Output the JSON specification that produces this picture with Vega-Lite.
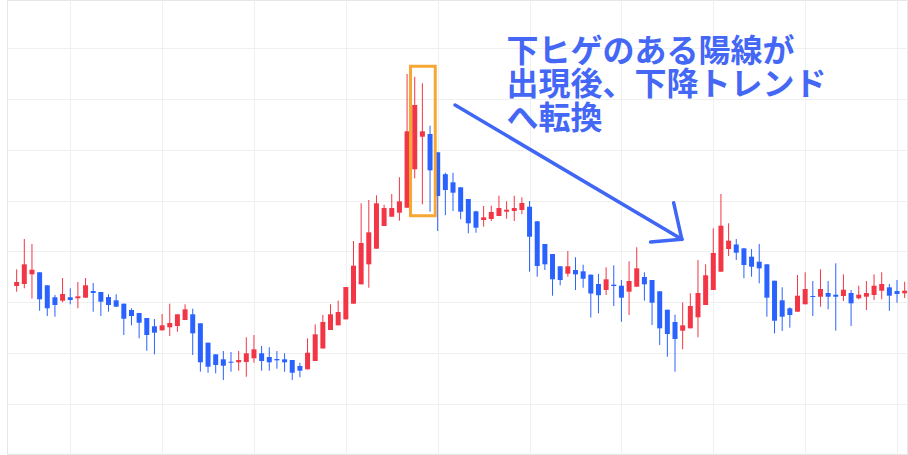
{
"$schema": "https://vega.github.io/schema/vega-lite/v6.json",
"width": 900,
"height": 454,
"autosize": {"type": "none"},
"padding": {"left": 7, "top": 0, "right": 1, "bottom": 1},
"background": "white",
"config": {"view": {"stroke": "#e6e6e6", "strokeWidth": 1}},
"datasets": {
"candles": [
{"i":0,"o":123.17,"h":126.46,"l":122.05,"c":123.96},
{"i":1,"o":123.56,"h":132.42,"l":122.72,"c":127.44},
{"i":2,"o":125.47,"h":131.44,"l":120.67,"c":126.38},
{"i":3,"o":125.87,"h":125.87,"l":118.31,"c":120.55},
{"i":4,"o":123.31,"h":123.31,"l":117.26,"c":118.78},
{"i":5,"o":120.95,"h":121.40,"l":117.13,"c":119.43},
{"i":6,"o":120.28,"h":124.74,"l":119.96,"c":121.59},
{"i":7,"o":120.95,"h":122.72,"l":119.57,"c":120.41},
{"i":8,"o":120.75,"h":123.96,"l":118.78,"c":121.14},
{"i":9,"o":120.87,"h":124.74,"l":120.87,"c":123.31},
{"i":10,"o":122.18,"h":123.76,"l":118.11,"c":121.79},
{"i":11,"o":121.99,"h":121.99,"l":117.26,"c":120.08},
{"i":12,"o":121.00,"h":121.54,"l":118.11,"c":119.43},
{"i":13,"o":120.35,"h":121.54,"l":119.09,"c":119.09},
{"i":14,"o":119.69,"h":119.69,"l":113.52,"c":116.73},
{"i":15,"o":118.45,"h":118.78,"l":115.43,"c":117.26},
{"i":16,"o":117.85,"h":117.85,"l":112.87,"c":115.94},
{"i":17,"o":116.87,"h":116.87,"l":110.43,"c":113.52},
{"i":18,"o":115.24,"h":116.67,"l":109.72,"c":113.98},
{"i":19,"o":114.45,"h":117.66,"l":114.37,"c":115.43},
{"i":20,"o":115.04,"h":119.69,"l":113.33,"c":115.89},
{"i":21,"o":115.30,"h":117.60,"l":114.17,"c":117.60},
{"i":22,"o":116.48,"h":119.57,"l":116.48,"c":118.58},
{"i":23,"o":117.60,"h":118.70,"l":109.59,"c":113.86},
{"i":24,"o":115.83,"h":115.83,"l":106.30,"c":108.15},
{"i":25,"o":112.01,"h":112.01,"l":106.10,"c":107.28},
{"i":26,"o":109.72,"h":109.72,"l":105.98,"c":107.62},
{"i":27,"o":108.74,"h":110.37,"l":104.67,"c":107.48},
{"i":28,"o":108.27,"h":110.18,"l":106.30,"c":108.07},
{"i":29,"o":108.15,"h":110.37,"l":106.50,"c":108.60},
{"i":30,"o":108.21,"h":113.07,"l":105.31,"c":109.92},
{"i":31,"o":108.94,"h":113.52,"l":108.07,"c":110.71},
{"i":32,"o":109.92,"h":111.36,"l":106.50,"c":108.41},
{"i":33,"o":109.19,"h":111.10,"l":106.50,"c":108.15},
{"i":34,"o":108.80,"h":110.37,"l":106.89,"c":108.54},
{"i":35,"o":108.74,"h":109.92,"l":106.30,"c":108.15},
{"i":36,"o":108.60,"h":108.60,"l":104.67,"c":106.10},
{"i":37,"o":107.42,"h":108.07,"l":105.20,"c":106.50},
{"i":38,"o":106.77,"h":112.87,"l":106.77,"c":110.04},
{"i":39,"o":108.41,"h":115.63,"l":108.41,"c":113.66},
{"i":40,"o":110.87,"h":117.46,"l":110.87,"c":116.08},
{"i":41,"o":114.51,"h":119.57,"l":114.51,"c":117.60},
{"i":42,"o":115.43,"h":120.28,"l":115.43,"c":118.05},
{"i":43,"o":116.61,"h":122.97,"l":116.61,"c":122.97},
{"i":44,"o":119.69,"h":132.03,"l":119.69,"c":127.17},
{"i":45,"o":123.50,"h":139.45,"l":123.50,"c":131.63},
{"i":46,"o":127.44,"h":140.10,"l":122.83,"c":133.74},
{"i":47,"o":130.51,"h":141.02,"l":130.51,"c":139.45},
{"i":48,"o":134.98,"h":139.17,"l":134.98,"c":138.52},
{"i":49,"o":136.81,"h":141.28,"l":136.81,"c":138.52},
{"i":50,"o":137.60,"h":144.57,"l":136.02,"c":139.84},
{"i":51,"o":138.58,"h":164.90,"l":138.58,"c":153.62},
{"i":52,"o":146.14,"h":164.37,"l":144.37,"c":158.80},
{"i":53,"o":152.56,"h":163.07,"l":139.25,"c":153.62},
{"i":54,"o":153.09,"h":154.72,"l":137.80,"c":145.94},
{"i":55,"o":149.49,"h":149.49,"l":134.00,"c":140.89},
{"i":56,"o":145.18,"h":145.47,"l":137.11,"c":142.07},
{"i":57,"o":143.58,"h":145.47,"l":137.93,"c":141.54},
{"i":58,"o":142.60,"h":142.60,"l":136.30,"c":137.80},
{"i":59,"o":140.30,"h":140.30,"l":133.54,"c":135.51},
{"i":60,"o":137.87,"h":137.99,"l":133.66,"c":134.65},
{"i":61,"o":136.16,"h":138.92,"l":134.84,"c":136.69},
{"i":62,"o":136.36,"h":138.98,"l":135.96,"c":137.74},
{"i":63,"o":136.95,"h":140.94,"l":136.95,"c":138.52},
{"i":64,"o":137.80,"h":139.84,"l":136.42,"c":138.19},
{"i":65,"o":137.93,"h":140.94,"l":135.96,"c":138.52},
{"i":66,"o":138.13,"h":140.63,"l":137.34,"c":139.51},
{"i":67,"o":138.78,"h":139.90,"l":125.98,"c":132.87},
{"i":68,"o":135.91,"h":135.91,"l":125.00,"c":127.11},
{"i":69,"o":131.44,"h":131.44,"l":126.32,"c":127.44},
{"i":70,"o":129.47,"h":129.47,"l":121.26,"c":124.49},
{"i":71,"o":127.05,"h":127.05,"l":123.31,"c":124.35},
{"i":72,"o":125.59,"h":130.06,"l":125.00,"c":127.05},
{"i":73,"o":126.32,"h":128.82,"l":122.38,"c":125.47},
{"i":74,"o":126.06,"h":127.36,"l":122.83,"c":124.61},
{"i":75,"o":125.39,"h":125.47,"l":116.97,"c":121.69},
{"i":76,"o":123.56,"h":125.53,"l":117.80,"c":121.36},
{"i":77,"o":122.38,"h":126.85,"l":121.40,"c":124.49},
{"i":78,"o":123.43,"h":127.24,"l":119.23,"c":123.17},
{"i":79,"o":123.23,"h":124.35,"l":116.14,"c":120.87},
{"i":80,"o":122.05,"h":128.03,"l":117.46,"c":124.15},
{"i":81,"o":123.03,"h":130.79,"l":123.03,"c":126.65},
{"i":82,"o":124.94,"h":125.87,"l":120.28,"c":123.50},
{"i":83,"o":124.35,"h":124.35,"l":115.49,"c":119.88},
{"i":84,"o":122.13,"h":122.13,"l":111.56,"c":114.84},
{"i":85,"o":118.50,"h":118.50,"l":109.25,"c":113.72},
{"i":86,"o":116.08,"h":117.52,"l":106.30,"c":112.74},
{"i":87,"o":114.37,"h":119.96,"l":110.71,"c":115.43},
{"i":88,"o":114.84,"h":121.73,"l":114.84,"c":119.23},
{"i":89,"o":117.01,"h":128.29,"l":113.07,"c":121.79},
{"i":90,"o":119.43,"h":127.44,"l":119.43,"c":125.28},
{"i":91,"o":122.38,"h":134.53,"l":122.38,"c":129.67},
{"i":92,"o":125.98,"h":141.28,"l":125.98,"c":135.04},
{"i":93,"o":130.45,"h":135.51,"l":129.07,"c":132.09},
{"i":94,"o":131.34,"h":132.42,"l":128.29,"c":129.72},
{"i":95,"o":130.59,"h":130.59,"l":124.69,"c":127.30},
{"i":96,"o":128.94,"h":130.45,"l":125.00,"c":126.97},
{"i":97,"o":127.95,"h":131.44,"l":123.70,"c":126.65},
{"i":98,"o":127.44,"h":127.44,"l":117.13,"c":120.87},
{"i":99,"o":124.21,"h":124.21,"l":113.86,"c":116.34},
{"i":100,"o":120.35,"h":122.91,"l":114.31,"c":117.13},
{"i":101,"o":118.78,"h":118.98,"l":114.96,"c":117.46},
{"i":102,"o":118.11,"h":125.33,"l":118.11,"c":121.26},
{"i":103,"o":119.57,"h":125.87,"l":119.57,"c":122.58},
{"i":104,"o":121.20,"h":124.15,"l":117.26,"c":121.00},
{"i":105,"o":121.06,"h":126.46,"l":119.09,"c":122.58},
{"i":106,"o":121.79,"h":124.15,"l":118.58,"c":121.06},
{"i":107,"o":121.46,"h":127.64,"l":114.37,"c":121.06},
{"i":108,"o":121.20,"h":125.47,"l":120.22,"c":122.44},
{"i":109,"o":121.79,"h":122.38,"l":115.30,"c":119.76},
{"i":110,"o":120.75,"h":123.23,"l":120.55,"c":121.46},
{"i":111,"o":121.06,"h":124.15,"l":118.45,"c":121.79},
{"i":112,"o":121.40,"h":125.47,"l":120.41,"c":123.23},
{"i":113,"o":122.24,"h":125.87,"l":120.55,"c":123.56},
{"i":114,"o":122.91,"h":123.56,"l":118.31,"c":121.26},
{"i":115,"o":122.18,"h":124.35,"l":119.88,"c":121.59},
{"i":116,"o":121.73,"h":124.00,"l":120.80,"c":122.24}
],
"arrow": [
{"x1":57.27,"y1":158.80,"x2":86.89,"y2":132.36},
{"x1":85.82,"y1":139.57,"x2":86.89,"y2":132.36},
{"x1":82.81,"y1":131.83,"x2":86.89,"y2":132.36}
],
"box": [{"x1":51.45,"x2":54.68,"y1":166.45,"y2":137.0}],
"note": [{"x":63.98,"y":172.2,"label":"下ヒゲのある陽線が\n出現後、下降トレンド\nへ転換"}]
},
"layer": [
{
"data": {"name": "candles"},
"mark": {"type": "rule", "strokeWidth": 1, "clip": true},
"encoding": {
"x": {"field": "i", "type": "quantitative", "title": null,
"scale": {"domain": [-0.607, 115.65], "nice": false, "zero": false},
"axis": {"values": [7,19,31,43,55,67,79,91,103,115], "labels": false, "ticks": false, "domain": false, "grid": true, "gridColor": "#f0f0f0", "gridWidth": 1}},
"y": {"field": "l", "type": "quantitative", "title": null,
"scale": {"domain": [90.1, 179.47], "nice": false, "zero": false},
"axis": {"values": [100,110,120,130,140,150,160,170], "labels": false, "ticks": false, "domain": false, "grid": true, "gridColor": "#f0f0f0", "gridWidth": 1}},
"y2": {"field": "h"},
"color": {"condition": {"test": "datum.c > datum.o", "value": "#F23645"}, "value": "#2962FF"}
}
},
{
"data": {"name": "candles"},
"mark": {"type": "bar", "size": 5, "clip": true},
"encoding": {
"x": {"field": "i", "type": "quantitative", "title": null},
"y": {"field": "o", "type": "quantitative", "title": null},
"y2": {"field": "c"},
"color": {"condition": {"test": "datum.c > datum.o", "value": "#F23645"}, "value": "#2962FF"}
}
},
{
"data": {"name": "box"},
"mark": {"type": "rect", "fill": null, "fillOpacity": 0, "stroke": "#F7A733", "strokeWidth": 3},
"encoding": {
"x": {"field": "x1", "type": "quantitative", "title": null},
"x2": {"field": "x2"},
"y": {"field": "y1", "type": "quantitative", "title": null},
"y2": {"field": "y2"}
}
},
{
"data": {"name": "arrow"},
"mark": {"type": "rule", "stroke": "#3F66F4", "strokeWidth": 3.5, "strokeCap": "round"},
"encoding": {
"x": {"field": "x1", "type": "quantitative", "title": null},
"x2": {"field": "x2"},
"y": {"field": "y1", "type": "quantitative", "title": null},
"y2": {"field": "y2"}
}
},
{
"data": {"name": "note"},
"mark": {"type": "text", "align": "left", "baseline": "top", "font": "Noto Sans CJK JP", "fontSize": 32, "fontWeight": "bold", "fill": "#4468F5", "lineBreak": "\n", "lineHeight": 33.3},
"encoding": {
"x": {"field": "x", "type": "quantitative", "title": null},
"y": {"field": "y", "type": "quantitative", "title": null},
"text": {"field": "label"}
}
}
]
}
